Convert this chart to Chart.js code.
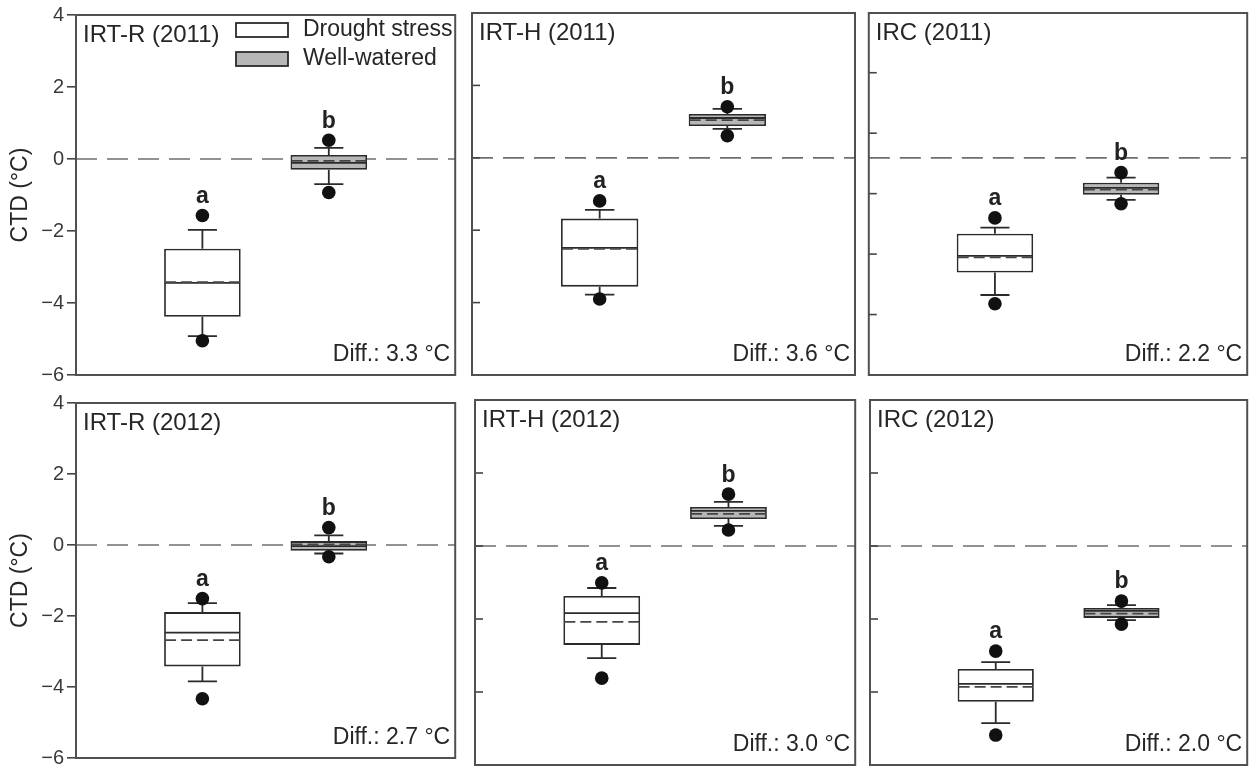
<!DOCTYPE html>
<html><head><meta charset="utf-8">
<script src="https://cdn.jsdelivr.net/npm/chart.js@4.4.1/dist/chart.umd.min.js"></script>
<style>
html,body{margin:0;padding:0;background:#fff;}
body{width:1254px;height:773px;position:relative;overflow:hidden;}
canvas{position:absolute;}
</style></head><body>
<script>
// ---------- data ----------
const categories = ['Drought stress', 'Well-watered'];
const panelTitles = ['IRT-R (2011)', 'IRT-H (2011)', 'IRC (2011)', 'IRT-R (2012)', 'IRT-H (2012)', 'IRC (2012)'];
const diffLabels = ['Diff.: 3.3 °C', 'Diff.: 3.6 °C', 'Diff.: 2.2 °C', 'Diff.: 2.7 °C', 'Diff.: 3.0 °C', 'Diff.: 2.0 °C'];
const yAxisTitle = 'CTD (°C)';
const yTickValues = [4, 2, 0, -2, -4, -6];
const ircTicks2011 = [2.35, 0.68, -0.99, -2.66, -4.33];

const droughtQ1          = [-4.38, -3.56, -3.17, -3.42, -2.71, -4.27];
const droughtQ3          = [-2.49, -1.68, -2.10, -1.89, -1.37, -3.37];
const droughtMedian      = [-3.44, -2.49, -2.71, -2.47, -1.84, -3.78];
const droughtMean        = [-3.42, -2.52, -2.75, -2.68, -2.08, -3.86];
const droughtWhiskerLow  = [-4.92, -3.78, -3.79, -3.84, -3.07, -4.85];
const droughtWhiskerHigh = [-1.97, -1.44, -1.93, -1.64, -1.15, -3.18];
const droughtOutlierLow  = [-5.05, -3.90, -4.03, -4.33, -3.62, -5.18];
const droughtOutlierHigh = [-1.57, -1.19, -1.66, -1.51, -1.01, -2.88];

const wellQ1          = [-0.30, 0.88, -1.02, -0.16, 0.74, -1.97];
const wellQ3          = [ 0.11, 1.21, -0.69,  0.11, 1.07, -1.70];
const wellMedian      = [-0.11, 1.10, -0.83, -0.03, 0.96, -1.78];
const wellMean        = [-0.05, 1.04, -0.88,  0.02, 0.88, -1.85];
const wellWhiskerLow  = [-0.70, 0.80, -1.16, -0.24, 0.55, -2.03];
const wellWhiskerHigh = [ 0.31, 1.35, -0.55,  0.27, 1.21, -1.62];
const wellOutlierLow  = [-0.93, 0.61, -1.27, -0.33, 0.44, -2.14];
const wellOutlierHigh = [ 0.52, 1.41, -0.41,  0.49, 1.42, -1.51];

const droughtLetters = ['a', 'a', 'a', 'a', 'a', 'a'];
const wellLetters    = ['b', 'b', 'b', 'b', 'b', 'b'];

// ---------- layout / style ----------
const FONT = '"Liberation Sans", Arial, Helvetica, sans-serif';
const INK = '#2b2b2b';
const TEXT = '#262626';
const WELL_FILL = '#b7b7b7';
const frames = [
  {x0: 76,  y0: 13,  x1: 457,  y1: 375, axis: true, c: [0, 0, 462, 390]},
  {x0: 472, y0: 13,  x1: 855,  y1: 375, axis: false, c: [464, 0, 398, 390]},
  {x0: 868, y0: 13,  x1: 1252, y1: 375, axis: false, c: [862, 0, 392, 390]},
  {x0: 76,  y0: 400, x1: 457,  y1: 765, axis: true, c: [0, 388, 462, 385]},
  {x0: 475, y0: 400, x1: 857,  y1: 765, axis: false, c: [464, 388, 398, 385]},
  {x0: 870, y0: 400, x1: 1252, y1: 765, axis: false, c: [862, 388, 392, 385]}
];
const AXIS_W = 76;

function groupsFor(p) {
  return [
    {q1: droughtQ1[p], q3: droughtQ3[p], med: droughtMedian[p], mean: droughtMean[p],
     wl: droughtWhiskerLow[p], wh: droughtWhiskerHigh[p], oh: droughtOutlierHigh[p], letter: droughtLetters[p]},
    {q1: wellQ1[p], q3: wellQ3[p], med: wellMedian[p], mean: wellMean[p],
     wl: wellWhiskerLow[p], wh: wellWhiskerHigh[p], oh: wellOutlierHigh[p], letter: wellLetters[p]}
  ];
}

const boxExtras = {
  id: 'boxExtras',
  beforeDatasetsDraw(chart, args, o) {
    const {ctx, chartArea: a, scales: {y}} = chart;
    const p = o.panel;
    ctx.save();
    // zero reference line
    const yz = y.getPixelForValue(0);
    ctx.strokeStyle = '#6f6f6f'; ctx.lineWidth = 1.7; ctx.setLineDash([21, 10]);
    ctx.beginPath(); ctx.moveTo(a.left, yz); ctx.lineTo(a.right, yz); ctx.stroke();
    ctx.setLineDash([]);
    // whiskers + caps
    const meta = chart.getDatasetMeta(0);
    ctx.strokeStyle = INK; ctx.lineWidth = 1.8;
    groupsFor(p).forEach((g, k) => {
      const bar = meta.data[k + 1];
      const cx = bar.x, hw = bar.width * 0.19;
      const yq1 = y.getPixelForValue(g.q1), yq3 = y.getPixelForValue(g.q3);
      const ywl = y.getPixelForValue(g.wl), ywh = y.getPixelForValue(g.wh);
      ctx.beginPath();
      ctx.moveTo(cx, yq3); ctx.lineTo(cx, ywh);
      ctx.moveTo(cx - hw, ywh); ctx.lineTo(cx + hw, ywh);
      ctx.moveTo(cx, yq1); ctx.lineTo(cx, ywl);
      ctx.moveTo(cx - hw, ywl); ctx.lineTo(cx + hw, ywl);
      ctx.stroke();
    });
    ctx.restore();
  },
  afterDatasetsDraw(chart, args, o) {
    const {ctx, chartArea: a, scales: {y}} = chart;
    const p = o.panel;
    const meta = chart.getDatasetMeta(0);
    ctx.save();
    groupsFor(p).forEach((g, k) => {
      const bar = meta.data[k + 1];
      const l = bar.x - bar.width / 2 + 1, r = bar.x + bar.width / 2 - 1;
      const ym = y.getPixelForValue(g.med), ya = y.getPixelForValue(g.mean);
      ctx.strokeStyle = INK; ctx.lineWidth = 1.8; ctx.setLineDash([]);
      ctx.beginPath(); ctx.moveTo(l, ym); ctx.lineTo(r, ym); ctx.stroke();
      ctx.strokeStyle = '#444'; ctx.lineWidth = 1.7; ctx.setLineDash([11, 5]);
      ctx.beginPath(); ctx.moveTo(l, ya); ctx.lineTo(r, ya); ctx.stroke();
      ctx.setLineDash([]);
      // significance letter
      ctx.fillStyle = '#222'; ctx.font = 'bold 23px ' + FONT;
      ctx.textAlign = 'center'; ctx.textBaseline = 'middle';
      ctx.fillText(g.letter, bar.x, y.getPixelForValue(g.oh) - 19);
    });
    // inward ticks for panels without labels
    if (!o.axis) {
      const tv = p === 2 ? ircTicks2011 : yTickValues;
      ctx.strokeStyle = '#444'; ctx.lineWidth = 1.6;
      tv.forEach(v => {
        if (v >= y.max || v <= y.min) return;
        const py = y.getPixelForValue(v);
        ctx.beginPath(); ctx.moveTo(a.left, py); ctx.lineTo(a.left + 8, py); ctx.stroke();
      });
    }
    // frame
    ctx.strokeStyle = '#505050'; ctx.lineWidth = 2;
    ctx.strokeRect(a.left, a.top, a.right - a.left, a.bottom - a.top);
    // panel title
    ctx.fillStyle = TEXT; ctx.font = '24px ' + FONT;
    ctx.textAlign = 'left'; ctx.textBaseline = 'middle';
    ctx.fillText(panelTitles[p], a.left + 7, a.top + 20);
    // diff label
    ctx.font = '23px ' + FONT;
    ctx.textAlign = 'right';
    ctx.fillText(diffLabels[p], a.right - 5, a.bottom - 20);
    // legend (first panel only)
    if (p === 0) {
      const bx = a.left + 160, bw = 52, bh = 14;
      [['#ffffff', 8, categories[0]], [WELL_FILL, 37, categories[1]]].forEach(([fill, dy, txt]) => {
        ctx.fillStyle = fill; ctx.fillRect(bx, a.top + dy, bw, bh);
        ctx.strokeStyle = INK; ctx.lineWidth = 1.8; ctx.strokeRect(bx, a.top + dy, bw, bh);
        ctx.fillStyle = TEXT; ctx.textAlign = 'left'; ctx.font = '23px ' + FONT;
        ctx.fillText(txt, bx + 67, a.top + dy + bh / 2);
      });
    }
    ctx.restore();
  }
};

frames.forEach((f, p) => {
  const cv = document.createElement('canvas');
  const [cx, cy, cw, ch] = f.c;
  cv.width = cw; cv.height = ch;
  cv.style.left = cx + 'px'; cv.style.top = cy + 'px';
  cv.style.width = cw + 'px'; cv.style.height = ch + 'px';
  document.body.appendChild(cv);
  const g = groupsFor(p);
  const padding = {
    left: f.x0 - cx - (f.axis ? AXIS_W : 0),
    top: f.y0 - cy,
    right: cx + cw - f.x1,
    bottom: cy + ch - f.y1
  };
  const yScale = {
    min: -6, max: 4, display: f.axis,
    afterBuildTicks: s => { s.ticks = yTickValues.map(v => ({value: v})); },
    ticks: {
      font: {family: FONT, size: 20}, color: '#3a3a3a', padding: 3,
      callback: v => String(v).replace('-', '\u2212')
    },
    grid: {drawOnChartArea: false, drawTicks: true, tickLength: 9, color: '#444', lineWidth: 1.6},
    border: {display: false},
    title: {display: true, text: yAxisTitle, font: {family: FONT, size: 23}, color: TEXT, padding: {top: 7, bottom: 0}}
  };
  if (f.axis) yScale.afterFit = s => { s.width = AXIS_W; };
  new Chart(cv, {
    type: 'bar',
    data: {
      labels: [' ', categories[0], categories[1], '  '],
      datasets: [
        {
          label: 'box', order: 1,
          data: [null, [g[0].q1, g[0].q3], [g[1].q1, g[1].q3], null],
          backgroundColor: ['#fff', '#ffffff', WELL_FILL, '#fff'],
          borderColor: INK, borderWidth: 1.8, borderSkipped: false,
          barPercentage: 0.606, categoryPercentage: 1
        },
        {
          type: 'line', label: 'upper outliers', order: 0, showLine: false,
          data: [null, droughtOutlierHigh[p], wellOutlierHigh[p], null],
          pointRadius: 6.8, pointBackgroundColor: '#111', pointBorderWidth: 0
        },
        {
          type: 'line', label: 'lower outliers', order: 0, showLine: false,
          data: [null, droughtOutlierLow[p], wellOutlierLow[p], null],
          pointRadius: 6.8, pointBackgroundColor: '#111', pointBorderWidth: 0
        }
      ]
    },
    options: {
      responsive: false, animation: false, devicePixelRatio: 1,
      layout: {padding},
      plugins: {legend: {display: false}, tooltip: {enabled: false}, boxExtras: {panel: p, axis: f.axis}},
      scales: {
        x: {type: 'category', offset: false, display: false},
        y: yScale
      }
    },
    plugins: [boxExtras]
  });
});
</script>
</body></html>
